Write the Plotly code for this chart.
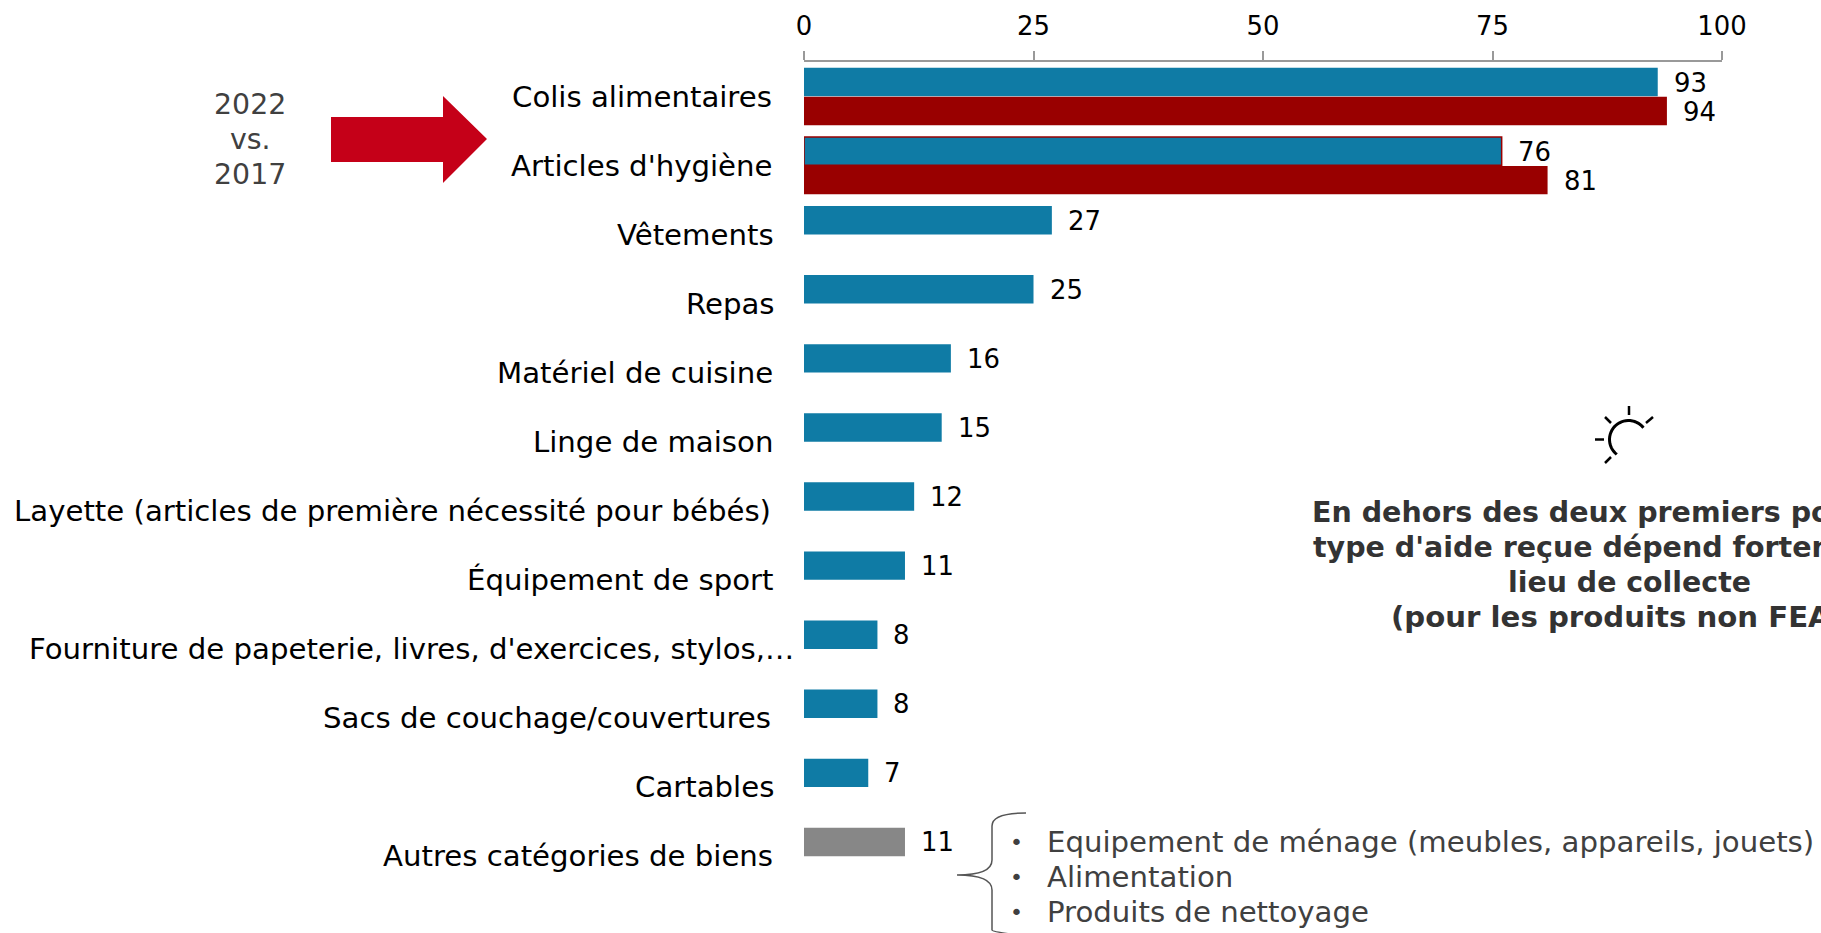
import numpy as np
import plotly.graph_objects as go

W, H = 1821, 933
categories = ["Colis alimentaires", "Articles d'hygiène", "Vêtements", "Repas", "Matériel de cuisine",
              "Linge de maison", "Layette (articles de première nécessité pour bébés)", "Équipement de sport",
              "Fourniture de papeterie, livres, d'exercices, stylos,…", "Sacs de couchage/couvertures",
              "Cartables", "Autres catégories de biens"]
values_2022 = [93, 76, 27, 25, 16, 15, 12, 11, 8, 8, 7, 11]
values_2017 = [94, 81, None, None, None, None, None, None, None, None, None, None]
tick_values = [0, 25, 50, 75, 100]
other_goods = ["Equipement de ménage (meubles, appareils, jouets)", "Alimentation", "Produits de nettoyage"]
note_lines = ["En dehors des deux premiers postes, le", "type d'aide reçue dépend fortement du",
              "lieu de collecte", "(pour les produits non FEAD)"]
compare_lines = ["2022", "vs.", "2017"]

BLUE, RED, GREY, ARROW = "#0F7BA5", "#990000", "#878787", "#C50018"
DARK = "#404040"
FONT = "DejaVu Sans, Verdana, sans-serif"
FS = 25.9
LABEL_FS = 29.2
NOTE_FS = 28.4
L, R, T, B = 804, 99, 62, 42
label_right = [774, 775, 776, 777, 775, 775, 773, 775, 796, 773, 776, 775]
note_sizes = [28.5, 28.5, 28.4, 29.2]


def px(x, y):
    return (x - L) / (W - L - R), 1 - (y - T) / (H - T - B)


def path(points, close=False):
    s = ""
    for i, (x, y) in enumerate(points):
        a, b = px(x, y)
        s += ("M" if i == 0 else "L") + f"{a:.5f},{b:.5f} "
    return s + ("Z" if close else "")


fig = go.Figure()
fig.add_bar(
    y=categories, x=values_2022, orientation="h", name="2022", cliponaxis=False,
    marker=dict(color=[GREY if c == categories[-1] else BLUE for c in categories],
                line=dict(color=[RED if c == categories[1] else "rgba(0,0,0,0)" for c in categories],
                          width=[1.5 if c == categories[1] else 0 for c in categories])),
)
fig.add_bar(y=categories, x=values_2017, orientation="h", name="2017", marker=dict(color=RED, line=dict(width=0)))

ann = []
for c, edge in zip(categories, label_right):
    ann.append(dict(x=0, y=c, xref="x", yref="y", text=c, showarrow=False, xanchor="right",
                    xshift=edge - L, font=dict(color="#000", size=LABEL_FS, family=FONT)))
for i, c in enumerate(categories):
    ann.append(dict(x=values_2022[i], y=c, xref="x", yref="y", text=str(values_2022[i]), showarrow=False,
                    xanchor="left", xshift=14, yshift=14,
                    font=dict(color="#000", size=FS, family=FONT)))
    if values_2017[i] is not None:
        ann.append(dict(x=values_2017[i], y=c, xref="x", yref="y", text=str(values_2017[i]), showarrow=False,
                        xanchor="left", xshift=14, yshift=-15,
                        font=dict(color="#000", size=FS, family=FONT)))


def page_text(x, y, text, anchor="center", color=DARK, bold=False, size=NOTE_FS):
    a, b = px(x, y)
    ann.append(dict(x=a, y=b, xref="paper", yref="paper", text=f"<b>{text}</b>" if bold else text, showarrow=False,
                    xanchor=anchor, yanchor="middle", font=dict(color=color, size=size, family=FONT)))


for k, t in enumerate(compare_lines):
    page_text(250, 104.5 + 35 * k, t)
for k, t in enumerate(note_lines):
    page_text(1629, 512 + 35 * k, t, bold=True, color="#333333", size=note_sizes[k])
for k, t in enumerate(other_goods):
    page_text(1016, 842 + 35 * k, "•", size=22)
    page_text(1045, 842 + 35 * k, t, anchor="left", size=29.2)

shapes = []
shapes.append(dict(type="path", xref="paper", yref="paper", fillcolor=ARROW, line=dict(width=0),
                   path=path([(331, 117), (443, 117), (443, 96), (487, 139), (443, 183), (443, 162), (331, 162)], True)))
# Brace
a = [px(*p) for p in [(1026, 813), (992, 816), (992, 860), (957, 875), (992, 890), (992, 930), (1026, 936)]]
brace = (f"M{a[0][0]},{a[0][1]} Q{px(992, 813)[0]},{px(992, 813)[1]} {a[1][0]},{a[1][1] - 0.012} "
         f"L{a[2][0]},{a[2][1]} Q{px(992, 875)[0]},{px(992, 875)[1]} {a[3][0]},{a[3][1]} "
         f"Q{px(992, 875)[0]},{px(992, 875)[1]} {a[4][0]},{a[4][1]} "
         f"L{a[5][0]},{a[5][1]} Q{px(992, 932)[0]},{px(992, 932)[1]} {a[6][0]},{a[6][1]}")
shapes.append(dict(type="path", xref="paper", yref="paper", path=brace, line=dict(color="#555555", width=1.5)))
# Light-bulb / idea icon
cx, cy, r = 1628.5, 439.5, 19
th = np.radians(np.linspace(-38, -232, 30))
shapes.append(dict(type="path", xref="paper", yref="paper",
                   path=path(list(zip(cx + r * np.cos(th), cy + r * np.sin(th)))), line=dict(color="#000", width=3)))
for (x0, y0, x1, y1) in [(1629, 406, 1629, 415), (1646, 423, 1653, 417), (1605, 417, 1611, 423),
                         (1595, 439.5, 1604, 439.5), (1605, 463, 1611, 457)]:
    shapes.append(dict(type="path", xref="paper", yref="paper", path=path([(x0, y0), (x1, y1)]),
                       line=dict(color="#000", width=2.5)))

fig.update_layout(
    width=W, height=H, margin=dict(l=L, r=R, t=T, b=B, pad=0), showlegend=False,
    plot_bgcolor="white", paper_bgcolor="white", barmode="group", bargap=0.16, bargroupgap=0.02,
    font=dict(family=FONT, size=FS, color="#000"), annotations=ann, shapes=shapes,
    xaxis=dict(side="top", range=[0, 100], tickvals=tick_values, ticks="outside", ticklen=9, tickwidth=1.5,
               tickcolor="#999999", showline=True, linecolor="#999999", linewidth=2, showgrid=False, zeroline=False,
               ticklabelstandoff=6, tickfont=dict(size=FS, color="#000", family=FONT)),
    yaxis=dict(autorange="reversed", showticklabels=False, ticks="", showline=False, showgrid=False, zeroline=False),
)
fig.write_html("out.html", config={"displayModeBar": False},
               post_script="document.body.style.margin='0';document.body.style.overflow='hidden';")
